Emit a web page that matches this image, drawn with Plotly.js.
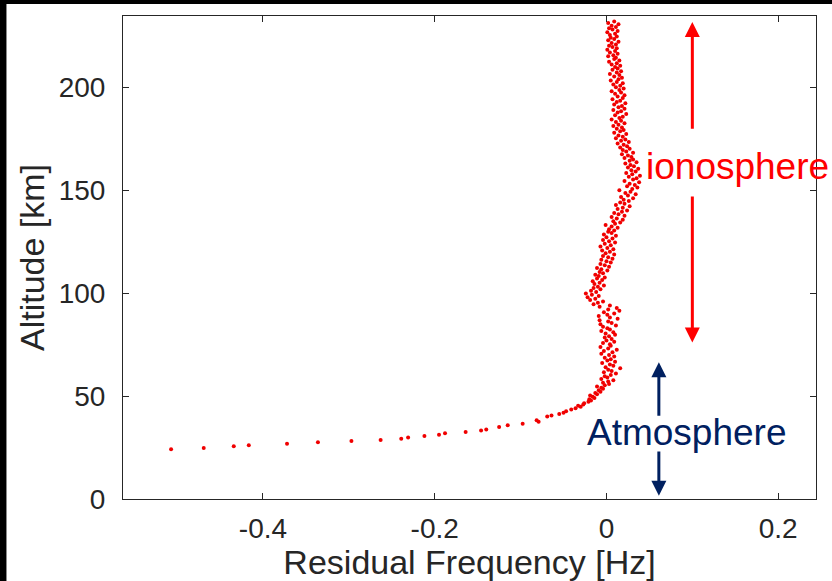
<!DOCTYPE html>
<html>
<head>
<meta charset="utf-8">
<script src="https://cdn.plot.ly/plotly-3.0.1.min.js"></script>
<style>
html,body{margin:0;padding:0;background:#000;width:832px;height:581px;overflow:hidden;}
#chart{position:absolute;left:6px;top:4px;width:825px;height:577px;background:#fff;border-left:1px solid #8a8a8a;}
</style>
</head>
<body>
<div id="chart"></div>
<script>
// Lower atmosphere tail (altitude km, residual Hz)
const tailAlt = [24.1,24.8,25.6,26.1,26.8,27.5,28.2,28.6,29.3,29.9,30.6,31.2,31.9,32.5,33.2,33.8,35.0,35.8,36.5,37.5,38.2,40.1];
const tailRes = [-0.507,-0.469,-0.434,-0.4165,-0.372,-0.336,-0.297,-0.263,-0.239,-0.231,-0.212,-0.195,-0.188,-0.164,-0.146,-0.140,-0.125,-0.115,-0.0976,-0.079,-0.0813,-0.069];

// Upper region cloud
const cloudAlt = [
40.6,41.3,41.9,42.6,43.4,44.0,44.8,45.3,
45.9,46.5,47.2,47.8,48.4,49.0,49.6,50.2,
50.8,51.5,52.1,52.8,53.5,54.0,54.6,55.2,
55.8,56.4,57.1,57.7,58.3,59.0,59.6,60.2,
60.9,61.5,62.2,62.8,63.5,64.0,64.7,
65.3,66.0,66.6,67.3,67.9,68.6,69.2,69.9,
70.5,71.2,71.8,72.5,73.1,73.8,74.4,
75.1,75.7,76.4,77.0,77.7,78.4,79.0,79.7,
80.3,81.0,81.6,82.3,82.9,83.6,84.2,84.9,
85.5,86.2,86.8,87.5,88.1,88.8,89.4,
90.1,90.7,91.4,92.0,92.7,93.3,94.0,94.6,
95.3,95.9,96.6,97.2,97.9,98.5,99.2,99.8,
100.5,101.1,101.8,102.4,103.1,103.7,104.4,
105.0,105.7,106.3,107.0,107.6,108.3,108.9,109.6,
110.2,110.9,111.5,112.2,112.8,113.5,114.1,114.8,
115.4,116.1,116.7,117.4,118.0,118.7,119.3,
120.0,120.6,121.3,121.9,122.6,123.2,123.9,124.5,
125.2,125.8,126.5,127.1,127.8,128.4,129.1,129.7,
130.4,131.0,131.7,132.3,133.0,133.6,134.3,
134.9,135.6,136.2,136.9,137.5,138.2,138.8,139.5,
140.1,140.8,141.4,142.1,142.7,143.4,144.0,144.7,
145.3,146.0,146.6,147.3,147.9,148.6,149.2,149.9,
150.5,151.2,151.8,152.5,153.1,153.8,154.4,155.1,
155.7,156.4,157.0,157.7,158.3,159.0,159.6,
160.3,160.9,161.6,162.2,162.9,163.5,164.2,164.8,
165.5,166.1,166.8,167.4,168.1,168.7,169.4,170.0,
170.7,171.3,172.0,172.6,173.3,173.9,174.6,
175.2,175.9,176.5,177.2,177.8,178.5,179.1,179.8,
180.4,181.1,181.7,182.4,183.0,183.7,184.3,185.0,
185.6,186.3,186.9,187.6,188.2,188.9,189.5,
190.2,190.8,191.5,192.1,192.8,193.4,194.1,194.7,
195.4,196.0,196.7,197.3,198.0,198.6,199.3,199.9,
200.6,201.2,201.9,202.5,203.2,203.8,204.5,
205.1,205.8,206.4,207.1,207.7,208.4,209.0,209.7,
210.3,211.0,211.6,212.3,212.9,213.6,214.2,214.9,
215.5,216.2,216.8,217.5,218.1,218.8,219.4,
220.1,220.7,221.4,222.0,222.7,223.3,224.0,224.6,
225.3,225.9,226.6,227.2,227.9,228.5,229.2,229.8,230.5,231.1,231.8
];
const cloudRes = [
-0.064,-0.055,-0.050,-0.047,-0.041,-0.036,-0.030,-0.033,
-0.027,-0.026,-0.021,-0.018,-0.020,-0.014,-0.016,-0.019,
-0.011,-0.013,-0.007,-0.009,-0.004,-0.006,-0.011,-0.002,
0.003,-0.004,0.002,0.008,-0.006,0.001,-0.002,0.005,
0.011,-0.003,0.006,0.002,0.016,-0.001,0.008,
0.004,-0.005,0.010,0.001,0.005,-0.002,0.009,0.003,
-0.006,0.007,-0.003,0.012,0.002,-0.007,0.005,
0.004,-0.004,0.009,0.000,0.006,-0.002,0.003,0.010,
-0.001,0.008,-0.006,0.004,0.001,-0.004,0.011,-0.007,
0.006,0.002,-0.008,0.013,0.004,-0.009,0.001,
0.009,-0.003,0.015,0.002,0.012,-0.008,0.004,-0.015,
-0.010,-0.004,-0.019,-0.013,-0.022,-0.009,-0.017,-0.024,
-0.012,-0.018,-0.007,-0.015,-0.010,-0.003,-0.014,
-0.008,-0.016,-0.005,-0.011,-0.002,-0.009,-0.013,-0.004,
-0.008,0.001,-0.006,-0.011,0.003,-0.002,-0.007,0.005,
0.000,-0.006,0.007,0.002,-0.004,0.009,-0.001,
0.004,-0.005,0.008,0.001,-0.007,0.005,-0.002,0.010,
0.003,-0.004,0.007,0.000,0.011,-0.003,0.006,0.002,
0.009,0.003,0.013,0.006,-0.001,0.010,0.016,
0.008,0.019,0.012,0.006,0.021,0.014,0.009,0.018,
0.024,0.013,0.019,0.027,0.011,0.021,0.016,0.026,
0.020,0.031,0.017,0.025,0.034,0.022,0.028,0.015,
0.030,0.036,0.024,0.033,0.027,0.038,0.021,0.031,
0.035,0.026,0.039,0.030,0.023,0.034,0.029,
0.037,0.025,0.032,0.028,0.022,0.035,0.027,0.031,
0.021,0.029,0.025,0.018,0.031,0.023,0.019,0.027,
0.016,0.024,0.020,0.013,0.026,0.017,0.022,
0.011,0.019,0.014,0.023,0.009,0.016,0.020,0.012,
0.018,0.008,0.014,0.021,0.011,0.017,0.006,0.015,
0.019,0.010,0.023,0.013,0.017,0.008,0.021,
0.014,0.018,0.009,0.022,0.012,0.016,0.007,0.019,
0.013,0.021,0.010,0.017,0.006,0.015,0.020,0.011,
0.016,0.008,0.019,0.012,0.005,0.014,0.018,
0.009,0.015,0.004,0.012,0.017,0.007,0.013,0.010,
0.016,0.006,0.012,0.003,0.015,0.009,0.011,0.002,
0.008,0.013,0.004,0.010,0.001,0.012,0.007,
0.003,0.011,0.006,0.014,0.002,0.009,0.005,0.012,
0.004,0.010,0.001,0.013,0.007,0.003,0.011,0.006,0.014,0.002,0.009
];

const xTicks = [-0.4, -0.2, 0, 0.2];
const xTickText = ['-0.4', '-0.2', '0', '0.2'];
const yTicks = [0, 50, 100, 150, 200];
const yTickText = ['0', '50', '100', '150', '200'];

const FONT = 'Liberation Sans, Arial, Helvetica, sans-serif';
const AX = '#262626';

const trace = {
  x: tailRes.concat(cloudRes),
  y: tailAlt.concat(cloudAlt),
  type: 'scatter',
  mode: 'markers',
  marker: {color: '#f00000', size: 4, line: {width: 0}},
  hoverinfo: 'skip',
  cliponaxis: false
};

function arrow(x, yFrom, yTo, color) {
  return {x: x, y: yTo, ax: x, ay: yFrom, xref: 'x', yref: 'y', axref: 'x', ayref: 'y',
          text: '', showarrow: true, arrowhead: 2, arrowsize: 1, arrowwidth: 3,
          arrowcolor: color, standoff: 0, startstandoff: 0};
}

const layout = {
  width: 825, height: 577,
  margin: {l: 116, r: 16, t: 12, b: 82},
  paper_bgcolor: '#ffffff',
  plot_bgcolor: '#ffffff',
  showlegend: false,
  font: {family: FONT, color: AX},
  xaxis: {
    range: [-0.563, 0.244],
    tickvals: xTicks, ticktext: xTickText,
    ticks: 'inside', ticklen: 6, tickcolor: AX, tickwidth: 1,
    showline: true, linecolor: AX, linewidth: 1, mirror: 'ticks',
    showgrid: false, zeroline: false,
    tickfont: {family: FONT, size: 28, color: AX},
    ticklabelstandoff: 4,
    title: {text: 'Residual Frequency [Hz]', font: {family: FONT, size: 34, color: AX}, standoff: 8}
  },
  yaxis: {
    range: [0, 234.5],
    tickvals: yTicks, ticktext: yTickText,
    ticks: 'inside', ticklen: 6, tickcolor: AX, tickwidth: 1,
    showline: true, linecolor: AX, linewidth: 1, mirror: 'ticks',
    showgrid: false, zeroline: false,
    tickfont: {family: FONT, size: 28, color: AX},
    ticklabelstandoff: 11,
    title: {text: 'Altitude [km]', font: {family: FONT, size: 34, color: AX}, standoff: 3}
  },
  annotations: [
    arrow(0.1, 179, 231.6, '#ff0000'),
    arrow(0.1, 147.6, 76, '#ff0000'),
    arrow(0.061, 39.7, 66.4, '#002060'),
    arrow(0.061, 23.8, 1.6, '#002060'),
    {x: 0.152, y: 161.5, xref: 'x', yref: 'y', text: 'ionosphere', showarrow: false,
     font: {family: FONT, size: 37, color: '#ff0000'}},
    {x: 0.094, y: 32.5, xref: 'x', yref: 'y', text: 'Atmosphere', showarrow: false,
     font: {family: FONT, size: 37, color: '#002060'}}
  ]
};

Plotly.newPlot('chart', [trace], layout, {staticPlot: true, displayModeBar: false});
</script>
</body>
</html>
